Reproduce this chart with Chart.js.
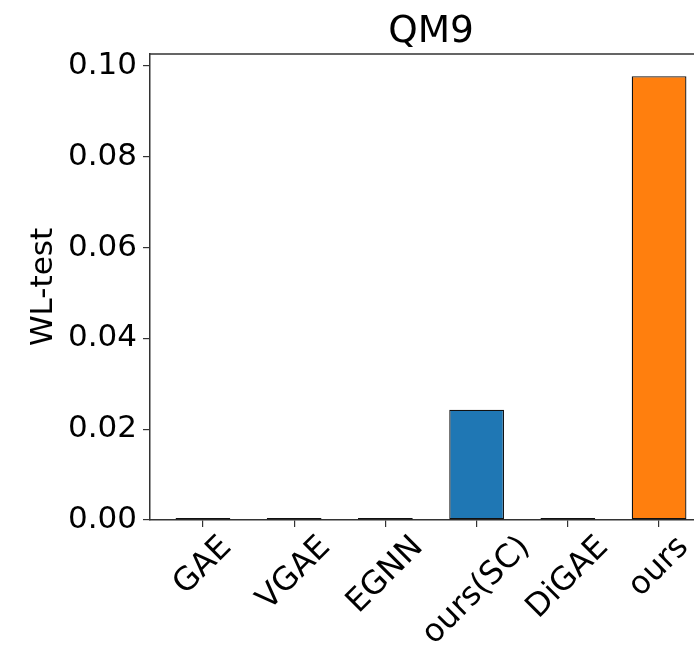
<!DOCTYPE html>
<html>
<head>
<meta charset="utf-8">
<script src="https://cdn.jsdelivr.net/npm/chart.js@4/dist/chart.umd.min.js"></script>
<style>
  html, body { margin: 0; padding: 0; background: #fff; overflow: hidden; }
  #wrap { width: 694px; height: 646px; overflow: hidden; }
</style>
</head>
<body>
<div id="wrap"><canvas id="wlChart" width="712" height="646"></canvas></div>
<script>
// data
const categories = ["GAE", "VGAE", "EGNN", "ours(SC)", "DiGAE", "ours"];
const wlValues = [0, 0, 0, 0.0243, 0, 0.0977];
const barColors = ["#1f77b4", "#1f77b4", "#1f77b4", "#1f77b4", "#1f77b4", "#ff7f0e"];
const yTicks = [0, 0.02, 0.04, 0.06, 0.08, 0.1];

const FONT = "'DejaVu Sans', sans-serif";
const TICK_SIZE = 31;
const XLABEL_SIZE = 32;

// garis atas & kanan seperti kotak matplotlib
const frameBox = {
  id: "frameBox",
  afterDraw(chart) {
    const { ctx, chartArea } = chart;
    ctx.save();
    ctx.strokeStyle = "#333";
    ctx.lineWidth = 1.5;
    ctx.beginPath();
    ctx.moveTo(chartArea.left, chartArea.top);
    ctx.lineTo(chartArea.right, chartArea.top);
    ctx.lineTo(chartArea.right, chartArea.bottom);
    ctx.stroke();
    ctx.restore();
  },
};

// label sumbu x miring 45°, kotaknya di tengah tick (gaya matplotlib)
const xLabels = {
  id: "xLabels",
  afterDraw(chart) {
    const { ctx } = chart;
    const xs = chart.scales.x;
    const top = xs.top + 11;
    ctx.save();
    ctx.font = `${XLABEL_SIZE}px ${FONT}`;
    ctx.fillStyle = "#000";
    ctx.textAlign = "right";
    ctx.textBaseline = "top";
    categories.forEach((label, i) => {
      const w = ctx.measureText(label).width;
      const h = XLABEL_SIZE;
      const x = xs.getPixelForValue(i) + 0.3535 * (w - h);
      ctx.save();
      ctx.translate(x, top);
      ctx.rotate(-Math.PI / 4);
      ctx.fillText(label, 0, 0);
      ctx.restore();
    });
    ctx.restore();
  },
};

const ctx = document.getElementById("wlChart").getContext("2d");

new Chart(ctx, {
  type: "bar",
  data: {
    datasets: [
      {
        label: "WL-test",
        data: wlValues.map((v, i) => ({ x: i, y: v })),
        backgroundColor: barColors,
        borderColor: "#111",
        borderWidth: 1.3,
        borderSkipped: false,
        minBarLength: 2,
        barPercentage: 0.6,
        categoryPercentage: 1.0,
      },
    ],
  },
  options: {
    responsive: false,
    animation: false,
    layout: { padding: 0 },
    plugins: {
      legend: { display: false },
      tooltip: { enabled: false },
      title: {
        display: true,
        fullSize: false,
        text: "QM9",
        color: "#000",
        font: { family: FONT, size: 37.5, weight: "normal", lineHeight: 1.1 },
        padding: { top: 11.5, bottom: 1.25 },
      },
    },
    scales: {
      x: {
        type: "linear",
        min: -0.58,
        max: 5.58,
        offset: false,
        afterBuildTicks: (scale) => {
          scale.ticks = categories.map((c, i) => ({ value: i }));
        },
        afterFit: (scale) => {
          scale.height = 126;
        },
        grid: {
          display: true,
          offset: false,
          drawOnChartArea: false,
          drawTicks: true,
          tickLength: 7,
          color: "#333",
          lineWidth: 1.2,
        },
        border: { display: true, color: "#333", width: 1.5 },
        ticks: { display: false },
      },
      y: {
        min: 0,
        max: 0.1026,
        afterBuildTicks: (scale) => {
          scale.ticks = yTicks.map((v) => ({ value: v }));
        },
        afterFit: (scale) => {
          scale.width = 150;
        },
        grid: {
          display: true,
          drawOnChartArea: false,
          drawTicks: true,
          tickLength: 7,
          color: "#333",
          lineWidth: 1.2,
        },
        border: { display: true, color: "#333", width: 1.5 },
        ticks: {
          color: "#000",
          font: { family: FONT, size: TICK_SIZE },
          padding: 6,
          callback: (value) => value.toFixed(2),
        },
        title: {
          display: true,
          text: "WL-test",
          color: "#000",
          font: { family: FONT, size: TICK_SIZE },
          padding: { top: 25, bottom: 0 },
        },
      },
    },
  },
  plugins: [frameBox, xLabels],
});
</script>
</body>
</html>
